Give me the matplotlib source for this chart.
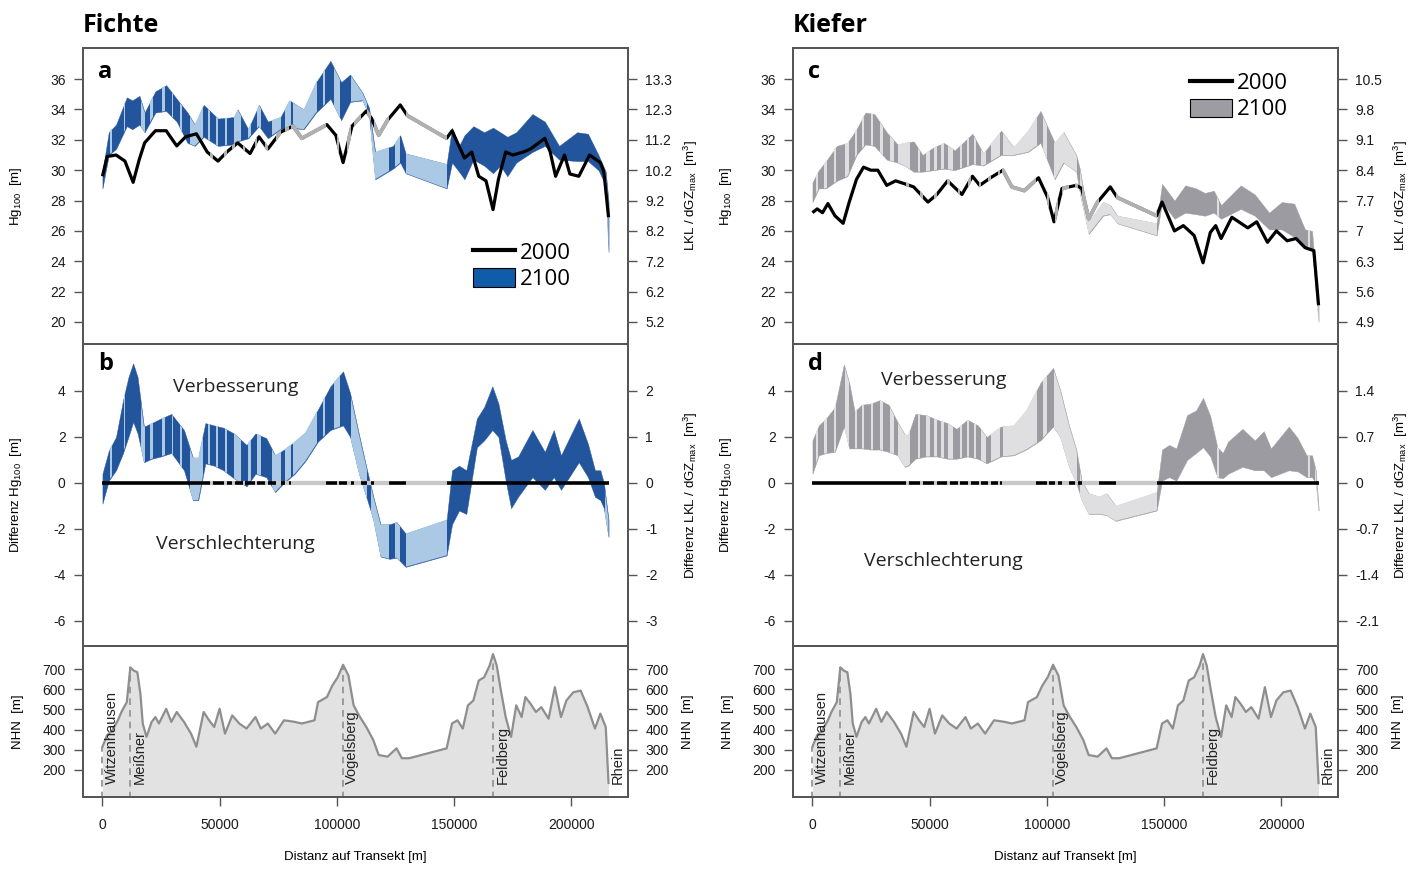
import numpy as np
import matplotlib.pyplot as plt
from matplotlib.lines import Line2D
from matplotlib.patches import Patch

# ==============================================================
# Fichte (spruce)  -- distances in km along the transect
F_BAND_KM = [0, 2.7, 5.8, 10.4, 12.7, 15.8, 18.0, 22.6, 27.2, 31.7, 36.3, 39.4, 43.2, 49.3, 56.1,
             57.7, 62.2, 66.8, 70.6, 76.0, 79.8, 85.9, 91.2, 97.3, 101.9, 105.7, 111.0, 113.8, 116.4,
             124.0, 127.1, 129.4, 146.9, 149.2, 152.2, 154.5, 158.3, 162.9, 166.7, 169.8, 172.8,
             176.6, 183.5, 188.8, 194.9, 202.6, 207.2, 211.7, 214.8, 216.0]
F_BAND_HI = [29.9, 32.5, 33.0, 34.8, 34.6, 34.9, 33.8, 35.2, 35.6, 34.7, 33.8, 33.0, 34.3, 33.4, 33.5,
             34.0, 32.7, 34.3, 33.2, 33.5, 34.6, 34.0, 35.8, 37.2, 35.8, 36.3, 35.1, 34.1, 31.2,
             31.6, 32.3, 31.1, 30.4, 32.8, 31.6, 32.3, 32.9, 32.5, 32.8, 32.5, 32.2,
             32.5, 33.7, 33.2, 31.6, 32.5, 32.4, 31.0, 29.9, 27.9]
F_BAND_LO = [28.8, 31.0, 31.4, 32.9, 32.7, 33.0, 32.5, 33.8, 33.9, 33.2, 31.8, 31.6, 32.2, 31.6, 31.7,
             31.9, 32.1, 32.9, 32.1, 32.7, 32.8, 32.7, 33.8, 34.7, 33.3, 34.5, 34.6, 33.6, 29.4,
             30.1, 30.5, 29.8, 28.8, 30.5, 29.9, 29.4, 30.7, 30.3, 29.8, 30.3, 29.6,
             30.5, 31.2, 31.6, 30.7, 30.6, 30.6, 30.0, 29.0, 24.6]
F_LINE_KM = [0, 2.0, 5.8, 9.6, 13.1, 15.7, 18.0, 22.6, 27.2, 31.7, 35.5, 40.1, 44.7, 49.3, 53.1,
             57.7, 63.0, 66.8, 70.6, 76.0, 81.3, 85.1, 95.8, 99.6, 102.7, 106.5, 112.6, 114.9, 117.9,
             121.7, 127.1, 130.1, 146.9, 149.2, 154.5, 157.6, 160.6, 163.7, 166.7, 169.0, 172.1,
             175.1, 179.7, 182.7, 188.8, 191.1, 193.4, 197.2, 199.5, 203.3, 207.9, 212.5, 214.0, 216.0]
F_LINE_HG = [29.6, 30.9, 31.0, 30.6, 29.2, 30.7, 31.8, 32.6, 32.6, 31.6, 32.2, 32.4, 31.2, 30.6, 31.2,
             31.8, 31.1, 32.2, 31.4, 32.5, 32.9, 32.1, 33.0, 32.3, 30.5, 32.9, 33.9, 33.4, 32.3,
             33.3, 34.3, 33.6, 32.1, 32.6, 30.8, 31.2, 29.6, 29.3, 27.4, 29.4, 31.2,
             31.0, 31.2, 31.4, 32.1, 31.2, 29.6, 31.0, 29.75, 29.6, 31.0, 30.5, 29.9, 26.9]
F_DIFF_KM = [0, 2.7, 5.8, 8.8, 11.1, 13.1, 15.0, 17.7, 21.0, 24.9, 29.4, 34.8, 38.6, 40.9, 43.9,
             47.7, 51.6, 56.1, 61.5, 65.3, 69.9, 73.7, 77.5, 82.1, 86.6, 92.0, 97.3, 102.7, 105.7,
             109.5, 112.6, 115.6, 118.7, 122.5, 125.5, 129.4, 146.9, 149.2, 152.2, 155.3, 159.8,
             162.9, 166.4, 169.0, 172.1, 174.4, 177.4, 183.5, 188.8, 192.6, 195.7, 203.3, 207.2,
             210.2, 212.5, 214.0, 216.0]
F_DIFF_HI = [0.4, 1.4, 2.0, 3.6, 4.6, 5.2, 4.6, 2.45, 2.6, 2.8, 3.0, 2.3, 1.1, 1.1, 2.6,
             2.5, 2.4, 2.15, 1.65, 2.15, 1.95, 1.2, 1.45, 1.8, 2.2, 3.2, 4.2, 4.85, 3.9,
             2.1, 0.7, -0.6, -1.8, -1.8, -1.7, -2.2, -1.6, 0.55, 0.75, 0.55, 2.8,
             3.3, 4.2, 3.45, 1.85, 1.0, 1.15, 2.3, 1.35, 2.3, 1.2, 2.8, 1.7,
             0.55, 0.55, 0.0, -1.6]
F_DIFF_LO = [-0.9, 0.1, 0.55, 1.3, 2.0, 2.65, 2.15, 0.9, 1.05, 1.15, 1.3, 0.55, -0.75, -0.75, 0.85,
             0.75, 0.55, 0.2, -0.15, 0.4, 0.25, -0.4, 0.0, 0.4, 0.95, 1.8, 2.3, 2.5, 2.0,
             0.4, -0.6, -1.6, -3.2, -3.3, -3.25, -3.65, -3.15, -1.8, -1.2, -1.35, 1.55,
             1.85, 2.3, 2.0, 0.1, -1.1, -0.6, 0.25, -0.3, 0.25, -0.3, 0.9, 0.25,
             -0.6, -0.75, -1.1, -2.35]
# stretches drawn in the light shade (km from-to)
F_LIGHT = [(3.2, 4.2), (9, 9.8), (16.5, 18), (20.5, 21.5), (25.5, 26.5), (29.5, 30.2), (33, 34),
           (37.5, 43), (45, 46), (48.5, 49.5), (52.5, 53.2), (56, 59), (62, 63.5), (66, 67.5),
           (72.5, 76), (78, 80.5), (81.5, 91.5), (94, 95), (99, 101.5), (106, 113), (114.5, 122.5),
           (125, 127), (129.4, 146.9), (214.5, 216)]
F_GAPS = [(46, 47), (52, 53), (55.5, 56.5), (60, 61), (65, 66), (69.5, 70.5), (74, 76), (78, 79.5),
          (80.5, 95.5), (100, 101), (104.5, 106), (107.5, 110.5), (113, 114.5), (116, 122.5),
          (129.4, 146.9)]

# ==============================================================
# Kiefer (pine)
K_BAND_KM = [0, 2.7, 5.8, 10.4, 14.9, 18.8, 22.6, 26.4, 31.7, 36.3, 39.4, 43.2, 47.0, 51.6, 56.1,
             60.7, 68.3, 72.9, 80.5, 85.9, 92.0, 97.3, 103.4, 107.2, 112.6, 114.1, 117.9, 124.0,
             127.1, 130.1, 146.9, 149.2, 154.5, 159.1, 163.7, 167.5, 171.3, 174.4, 182.8, 188.8,
             194.9, 200.3, 205.6, 210.2, 213.2, 216.0]
K_BAND_HI = [29.2, 30.0, 30.6, 31.6, 31.8, 32.7, 33.8, 33.7, 32.5, 31.7, 31.8, 31.9, 31.0, 31.5, 31.8,
             31.3, 32.4, 31.1, 32.6, 31.5, 32.6, 33.9, 31.8, 32.5, 31.0, 30.1, 26.6, 27.9,
             27.7, 27.0, 26.5, 29.1, 28.0, 29.0, 28.8, 28.5, 28.65, 27.7, 29.0, 28.4,
             27.2, 27.9, 27.8, 26.1, 26.0, 21.1]
K_BAND_LO = [27.9, 28.8, 28.8, 29.3, 29.6, 31.0, 31.7, 31.6, 30.7, 30.5, 30.3, 29.9, 29.9, 30.0, 30.1,
             30.0, 30.4, 30.3, 31.0, 31.0, 31.2, 31.8, 29.4, 30.5, 29.9, 28.5, 25.8, 27.0,
             27.1, 26.5, 25.7, 27.9, 26.8, 27.2, 27.1, 27.0, 27.2, 26.8, 27.45, 27.0,
             26.1, 26.1, 25.6, 25.0, 24.8, 20.0]
K_LINE_KM = [0, 2.0, 4.3, 6.6, 9.6, 13.1, 15.7, 18.8, 21.8, 24.9, 27.9, 31.7, 35.5, 39.4, 43.2,
             49.3, 53.1, 57.7, 63.8, 68.3, 71.4, 76.0, 81.3, 85.1, 90.4, 96.5, 100.4, 103.1, 106.5,
             112.6, 114.9, 117.9, 121.7, 127.1, 130.1, 146.9, 149.2, 154.5, 158.3, 162.9, 166.7,
             169.8, 172.1, 174.4, 179.0, 185.8, 189.6, 194.2, 198.0, 202.6, 206.4, 210.2, 214.0, 216.0]
K_LINE_HG = [27.2, 27.45, 27.2, 27.8, 27.0, 26.5, 27.9, 29.4, 30.2, 30.0, 30.0, 29.0, 29.3, 29.1, 28.9,
             27.9, 28.4, 29.3, 28.4, 29.6, 29.0, 29.5, 30.0, 28.9, 28.65, 29.5, 28.2, 26.6, 28.8,
             29.0, 28.8, 26.8, 27.9, 28.9, 28.2, 27.0, 27.9, 26.0, 26.35, 25.7, 23.9,
             25.9, 26.35, 25.5, 26.9, 26.2, 26.6, 25.25, 26.0, 25.35, 25.5, 24.9, 24.7, 21.1]
K_DIFF_KM = [0, 2.7, 5.8, 9.6, 13.4, 15.7, 18.0, 21.0, 24.9, 28.7, 32.5, 36.3, 39.4, 40.9, 43.9,
             48.5, 53.1, 57.7, 61.5, 66.1, 70.6, 74.4, 80.5, 85.9, 91.2, 97.3, 102.7, 105.7,
             109.5, 112.6, 114.9, 117.9, 122.5, 125.5, 129.4, 146.9, 149.2, 152.2, 155.3, 159.9,
             163.7, 166.7, 169.8, 172.8, 175.1, 177.4, 183.5, 188.8, 192.6, 195.7, 203.3, 207.1,
             210.9, 213.2, 214.8, 216.0]
K_DIFF_HI = [1.85, 2.5, 2.8, 3.3, 5.15, 4.35, 3.1, 3.4, 3.45, 3.6, 3.4, 2.65, 2.1, 2.1, 3.0,
             2.95, 2.75, 2.6, 2.35, 2.75, 2.5, 2.0, 2.45, 2.5, 3.15, 4.35, 5.0, 4.05,
             2.5, 1.45, 0.1, -0.45, -0.6, -0.45, -1.0, -0.4, 1.45, 1.65, 1.5, 2.95,
             3.15, 3.7, 2.9, 1.55, 1.3, 1.8, 2.35, 1.85, 2.25, 1.5, 2.45, 1.95,
             1.2, 1.2, 0.55, -1.05]
K_DIFF_LO = [0.4, 1.2, 1.3, 1.35, 2.45, 1.5, 1.5, 1.5, 1.45, 1.45, 1.35, 1.2, 0.7, 0.75, 1.05,
             1.15, 1.15, 1.05, 1.05, 1.15, 1.05, 0.85, 1.15, 1.2, 1.45, 1.85, 2.45, 2.0,
             0.7, 0.0, -0.75, -1.35, -1.35, -1.4, -1.65, -1.2, 0.1, 0.25, 0.1, 1.0,
             1.3, 1.55, 1.15, 0.25, 0.2, 0.4, 0.7, 0.55, 0.55, 0.25, 0.55, 0.5,
             0.25, 0.25, 0.0, -1.2]
K_LIGHT = [(1.5, 2.5), (5, 6), (9, 10), (14, 15.5), (18, 19), (21, 22), (25, 26), (29, 30), (33, 35),
           (36.5, 41.5), (45, 46), (48.5, 50), (52, 53), (55, 56), (58, 60), (63, 64), (66, 67),
           (69, 70), (72, 74), (76, 80), (81.5, 96), (98.5, 100), (103, 113), (114, 147),
           (172.5, 173.5), (211.5, 212.5), (214.5, 216)]
K_GAPS = [(40, 41), (46, 47), (52, 53), (57.5, 58.5), (62, 63), (66.5, 67.5), (71, 72), (75, 76),
          (79, 80), (81, 95.5), (100, 101), (103.5, 105), (106.5, 109.5), (112, 113.5), (115, 122.5),
          (129.4, 146.9)]

# ==============================================================
# terrain along the transect (same for both species)
ELEV_KM = [0, 2.0, 4.3, 6.6, 8.1, 10.4, 11.9, 13.4, 14.9, 16.2, 17.2, 18.8, 21.0, 22.6, 24.1,
           27.2, 29.4, 31.7, 34.8, 37.8, 40.1, 43.2, 45.5, 47.7, 50.0, 52.3, 55.4, 58.4, 61.5, 65.3,
           67.6, 70.6, 73.7, 77.5, 82.1, 85.1, 90.5, 92.0, 95.8, 98.1, 100.4, 102.7, 105.0, 107.2,
           109.5, 112.6, 115.6, 117.9, 121.7, 125.5, 127.8, 130.9, 146.9, 149.2, 151.5, 153.8,
           156.0, 158.3, 160.6, 162.9, 165.2, 166.7, 168.3, 169.8, 172.1, 174.4, 176.6, 178.9,
           180.5, 182.7, 185.0, 187.3, 190.4, 193.1, 195.7, 198.0, 201.0, 204.1, 207.1, 210.2,
           212.5, 214.8, 216.0]
ELEV_M = [315, 372, 397, 446, 487, 536, 708, 692, 684, 577, 430, 364, 438, 462, 430,
          503, 438, 487, 438, 380, 315, 487, 446, 413, 503, 380, 470, 430, 405, 462,
          405, 430, 380, 446, 438, 430, 446, 536, 561, 618, 659, 721, 667, 520,
          470, 413, 348, 274, 266, 307, 258, 258, 307, 430, 446, 405,
          520, 544, 643, 659, 716, 774, 716, 610, 462, 364, 520, 462,
          561, 528, 487, 511, 454, 610, 462, 544, 585, 593, 511, 405,
          479, 413, 135]
PLACES = ['Witzenhausen', 'Meißner', 'Vogelsberg', 'Feldberg', 'Rhein']
PLACE_KM = [0, 11.9, 102.7, 166.7, 216.0]
PLACE_TOP = [315, 708, 721, 774, 135]

HG_TICKS = [20, 22, 24, 26, 28, 30, 32, 34, 36]
DIFF_TICKS = [-6, -4, -2, 0, 2, 4]
NHN_TICKS = [200, 300, 400, 500, 600, 700]
X_TICKS = [0, 50000, 100000, 150000, 200000]
F_LKL = ['5.2', '6.2', '7.2', '8.2', '9.2', '10.2', '11.2', '12.3', '13.3']
F_DLKL = ['-3', '-2', '-1', '0', '1', '2']
K_LKL = ['4.9', '5.6', '6.3', '7', '7.7', '8.4', '9.1', '9.8', '10.5']
K_DLKL = ['-2.1', '-1.4', '-0.7', '0', '0.7', '1.4']

plt.rcParams['font.family'] = ['Liberation Sans', 'DejaVu Sans']
plt.rcParams['mathtext.fontset'] = 'custom'
plt.rcParams['mathtext.rm'] = 'Liberation Sans'
plt.rcParams['mathtext.it'] = 'Liberation Sans:italic'
plt.rcParams['mathtext.default'] = 'regular'
plt.rcParams['axes.unicode_minus'] = False

FRAME = '#555555'
XLIM = (-8300, 224300)


def km(v):
    return np.asarray(v, dtype=float) * 1000.0


def style(ax):
    for s in ax.spines.values():
        s.set_color(FRAME)
        s.set_linewidth(1.3)
    ax.tick_params(direction='out', length=6.5, width=1.0, color=FRAME,
                   labelsize=10, labelcolor='#1a1a1a', pad=6)


def right_axis(ax, ticks, labels, ylabel):
    tw = ax.twinx()
    style(tw)
    tw.set_ylim(ax.get_ylim())
    tw.set_yticks(ticks)
    tw.set_yticklabels(labels)
    tw.set_ylabel(ylabel, fontsize=9.5)
    tw.yaxis.set_label_coords(1.099, 0.5)
    return tw


def striped_band(ax, xkm, lo, hi, light_iv, dark, light):
    poly = ax.fill_between(km(xkm), lo, hi, facecolor=dark, edgecolor=dark, lw=0.3, zorder=2)
    clip = poly.get_paths()[0]
    for a, b in light_iv:
        sp = ax.axvspan(a * 1000, b * 1000, facecolor=light, edgecolor='none', zorder=2.1)
        sp.set_clip_path(clip, ax.transData)


def gapped_line(ax, x, y, gaps, lw, light):
    ax.plot(x, y, color='black', lw=lw, zorder=4, solid_capstyle='butt')
    for a, b in gaps:
        sp = ax.axvspan(a * 1000, b * 1000, facecolor='none', edgecolor='none')
        ln, = ax.plot(x, y, color=light, lw=lw + 0.5, zorder=5, solid_capstyle='butt')
        ln.set_clip_path(sp)


fig = plt.figure(figsize=(14.19, 8.69), dpi=100)

columns = [
    dict(left=83 / 1419, title='Fichte', letters=('a', 'b'),
         band=(F_BAND_KM, F_BAND_LO, F_BAND_HI), line=(F_LINE_KM, F_LINE_HG),
         diff=(F_DIFF_KM, F_DIFF_LO, F_DIFF_HI), light=F_LIGHT, gaps=F_GAPS,
         dark='#22559c', pale='#abc9e4', patch='#0f5ca9', lkl=F_LKL, dlkl=F_DLKL,
         leg=(0.716, 0.345), verb=(56.7, 4.17), versch=(56.7, -2.65)),
    dict(left=793 / 1419, title='Kiefer', letters=('c', 'd'),
         band=(K_BAND_KM, K_BAND_LO, K_BAND_HI), line=(K_LINE_KM, K_LINE_HG),
         diff=(K_DIFF_KM, K_DIFF_LO, K_DIFF_HI), light=K_LIGHT, gaps=K_GAPS,
         dark='#9b9ba1', pale='#dfdfe1', patch='#9c9ca2', lkl=K_LKL, dlkl=K_DLKL,
         leg=(0.728, 0.918), verb=(56.0, 4.48), versch=(56.0, -3.39)),
]
W = 545 / 1419

for c in columns:
    l = c['left']
    ax1 = fig.add_axes([l, 1 - 344 / 869, W, 296 / 869])
    ax2 = fig.add_axes([l, 1 - 646 / 869, W, 302 / 869])
    ax3 = fig.add_axes([l, 1 - 797 / 869, W, 151 / 869])

    # ---- top: Hg100 2000 line and 2100 band
    style(ax1)
    striped_band(ax1, *c['band'], c['light'], c['dark'], c['pale'])
    gapped_line(ax1, km(c['line'][0]), c['line'][1], c['gaps'], 2.3, '#b0b0b0')
    ax1.set_xlim(XLIM)
    ax1.set_ylim(18.55, 38.05)
    ax1.set_xticks([])
    ax1.set_yticks(HG_TICKS)
    ax1.set_ylabel('Hg$_{100}$  [m]', fontsize=9.5)
    ax1.yaxis.set_label_coords(-0.108, 0.5)
    right_axis(ax1, HG_TICKS, c['lkl'], 'LKL / dGZ$_{max}$  [m$^3$]')
    ax1.text(0.028, 0.92, c['letters'][0], transform=ax1.transAxes, fontsize=17,
             fontweight='bold', family='Open Sans', va='center')
    handles = [Line2D([], [], color='black', lw=3),
               Patch(facecolor=c['patch'], edgecolor='black', lw=0.8)]
    ax1.legend(handles, ['2000', '2100'], loc='upper left', bbox_to_anchor=c['leg'],
               frameon=False, prop=dict(family='Open Sans', size=16), handlelength=1.9,
               handleheight=0.9, handletextpad=0.2, labelspacing=0.2, borderaxespad=0,
               borderpad=0)
    ax1.figure.text(l, 1 - 25 / 869, c['title'], fontsize=18, fontweight='bold',
                    family='Open Sans', va='center', ha='left')

    # ---- middle: difference 2100 - 2000
    style(ax2)
    striped_band(ax2, *c['diff'], c['light'], c['dark'], c['pale'])
    dx = km(c['diff'][0])
    gapped_line(ax2, dx[[0, -1]], np.zeros(2), c['gaps'], 2.6, '#c8c8c8')
    ax2.set_xlim(XLIM)
    ax2.set_ylim(-7.09, 6.04)
    ax2.set_xticks([])
    ax2.set_yticks(DIFF_TICKS)
    ax2.set_ylabel('Differenz Hg$_{100}$  [m]', fontsize=9.5)
    ax2.yaxis.set_label_coords(-0.108, 0.5)
    right_axis(ax2, DIFF_TICKS, c['dlkl'], 'Differenz LKL / dGZ$_{max}$  [m$^3$]')
    ax2.text(0.028, 0.935, c['letters'][1], transform=ax2.transAxes, fontsize=17,
             fontweight='bold', family='Open Sans', va='center')
    ax2.text(c['verb'][0] * 1000, c['verb'][1], 'Verbesserung', fontsize=14,
             family='Open Sans', color='#222222', ha='center', va='center')
    ax2.text(c['versch'][0] * 1000, c['versch'][1], 'Verschlechterung', fontsize=14,
             family='Open Sans', color='#222222', ha='center', va='center')

    # ---- bottom: terrain profile
    style(ax3)
    ex = km(ELEV_KM)
    ax3.fill_between(ex, 0, ELEV_M, color='#e2e2e2', lw=0, zorder=1)
    ax3.plot(ex, ELEV_M, color='#8e8e8e', lw=1.6, zorder=3)
    ax3.vlines(km(PLACE_KM[:-1]), 0, PLACE_TOP[:-1], colors='#8e8e8e', lw=1.2,
               linestyles=(0, (4, 3)), zorder=2)
    for name, px in zip(PLACES, PLACE_KM):
        ax3.text(px * 1000 + 1000, 130, name, rotation=90, fontsize=10.5, color='#222222',
                 ha='left', va='bottom', zorder=4)
    ax3.set_xlim(XLIM)
    ax3.set_ylim(66, 814)
    ax3.set_yticks(NHN_TICKS)
    ax3.set_xticks(X_TICKS)
    ax3.set_xticklabels([str(t) for t in X_TICKS])
    ax3.tick_params(axis='x', pad=8.5)
    ax3.set_ylabel('NHN  [m]', fontsize=9.5)
    ax3.yaxis.set_label_coords(-0.108, 0.5)
    ax3.set_xlabel('Distanz auf Transekt [m]', fontsize=9.5, labelpad=14)
    right_axis(ax3, NHN_TICKS, [str(t) for t in NHN_TICKS], 'NHN  [m]')

fig.savefig('out.png', dpi=100, facecolor='white')
